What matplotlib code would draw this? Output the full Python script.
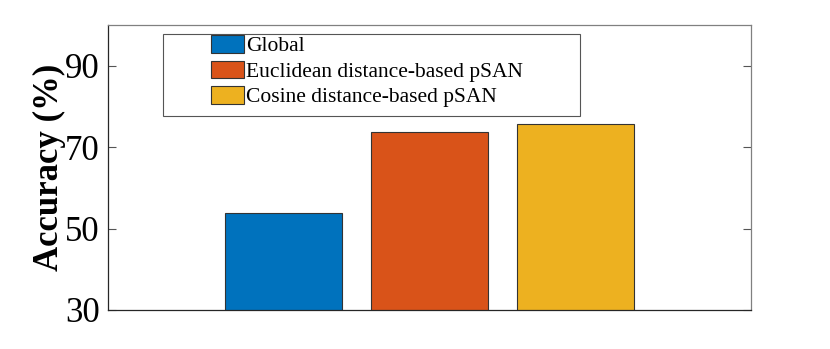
import matplotlib.pyplot as plt
from matplotlib.patches import Rectangle

# data
methods = ['Global', 'Euclidean distance-based pSAN', 'Cosine distance-based pSAN']
accuracy = [53.9, 73.7, 75.8]
colors = ['#0072BD', '#D95319', '#EDB120']
offsets = [-0.227, 0.0, 0.227]

plt.rcParams['font.family'] = ['Liberation Serif', 'DejaVu Serif']

fig = plt.figure(figsize=(8.3, 3.49), dpi=100)
ax = fig.add_axes([0.130, 0.112, 0.775, 0.816])

for i in range(len(methods)):
    ax.bar(1 + offsets[i], accuracy[i], width=0.182, bottom=0,
           color=colors[i], edgecolor='#333333', linewidth=0.8, label=methods[i])

ax.set_xlim(0.5, 1.5)
ax.set_ylim(30, 100)
ax.set_yticks([30, 50, 70, 90])
ax.set_xticks([])
ax.tick_params(axis='y', direction='in', length=6, width=0.8, labelsize=25,
               right=True, color='#555555', pad=6)
for s in ax.spines.values():
    s.set_color('#808080')
    s.set_linewidth(0.9)
ax.spines['bottom'].set_color('#262626')
ax.spines['left'].set_color('#262626')

ax.set_ylabel('Accuracy (%)', fontsize=25, fontweight='bold', labelpad=-1)

# legend frame drawn separately like matlab
ax.add_patch(Rectangle((0.0855, 0.681), 0.649, 0.287, transform=ax.transAxes,
                       fill=False, edgecolor='#555555', linewidth=0.8, zorder=5))
ax.legend(loc='upper left', bbox_to_anchor=(0.160, 0.965), frameon=False,
          fontsize=15.5, borderpad=0, borderaxespad=0, labelspacing=0.2,
          handlelength=1.53, handleheight=0.88, handletextpad=0.12)

plt.savefig('out.png', dpi=100)
